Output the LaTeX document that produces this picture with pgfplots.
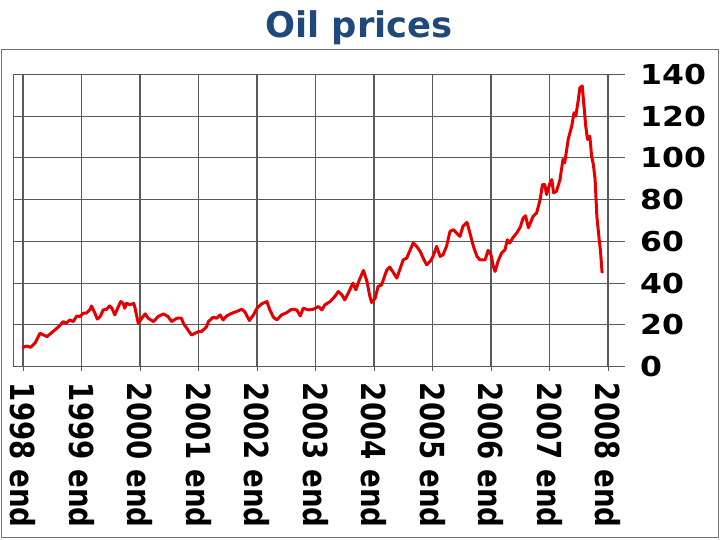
\documentclass[border=0pt]{standalone}
\usepackage{fontspec}
\setmainfont{DejaVu Sans}
\usepackage{pgfplots}
\pgfplotsset{compat=1.18}
\definecolor{titleblue}{RGB}{31,73,125}
\definecolor{oilred}{RGB}{228,0,0}
\definecolor{gridgray}{RGB}{90,90,90}
\begin{document}
\begin{tikzpicture}
\path[use as bounding box] (0,0) rectangle (720bp,540bp);
\draw[black!55, line width=1bp] (1.5bp,2bp) rectangle (718bp,490bp);
\node[anchor=base, font=\fontsize{35.5}{40}\selectfont\bfseries, text=titleblue, inner sep=0pt] at (359bp,502.3bp) {Oil prices};
\begin{axis}[
  at={(13bp,173.3bp)}, anchor=south west,
  scale only axis, width=612bp, height=292.4bp,
  xmin=1997.829, xmax=2008.291, ymin=0, ymax=140,
  axis line style={draw=none},
  grid=major,
  major grid style={gridgray, line width=1.1bp},
  xtick={1998,1999,2000,2001,2002,2003,2004,2005,2006,2007,2008},
  xticklabels={1998 end,1999 end,2000 end,2001 end,2002 end,2003 end,2004 end,2005 end,2006 end,2007 end,2008 end},
  ytick={0,20,40,60,80,100,120,140},
  yticklabels={0,20,40,60,80,100,120,140},
  xtick pos=left,
  ytick pos=right,
  yticklabel pos=right,
  tick align=outside,
  major tick length=4bp,
  xtick style={gridgray, line width=0.8bp},
  ytick style={draw=none},
  xticklabel style={font=\fontsize{27.7}{30}\selectfont\bfseries, rotate=-90, yscale=1.2, anchor=west, inner sep=0pt},
  yticklabel style={font=\fontsize{27.5}{30}\selectfont\bfseries, xscale=1.15, anchor=west, inner sep=0pt},
  xticklabel shift=12bp,
  yticklabel shift=11bp,
]
\draw[gridgray, line width=1.1bp] (rel axis cs:0,0) -- (rel axis cs:0,1);
\addplot[oilred, line width=3bp, line join=round, mark=none] table {
x y
1997.99 9.1
1998.06 9.9
1998.13 9.3
1998.21 11.5
1998.29 16
1998.35 15.2
1998.41 14.4
1998.49 16.3
1998.60 18.9
1998.69 21.6
1998.74 20.8
1998.80 22.4
1998.86 21.6
1998.92 24.3
1998.97 24
1999.03 25.6
1999.08 25.6
1999.15 27.5
1999.17 29.1
1999.23 25.6
1999.27 22.8
1999.32 24
1999.37 27.2
1999.43 27.5
1999.48 29.1
1999.52 28
1999.57 24.8
1999.61 27.5
1999.67 31.2
1999.71 30.4
1999.74 28
1999.77 30.4
1999.83 29.6
1999.89 30.4
1999.91 28.8
1999.97 20.8
2000.03 23.2
2000.09 25.3
2000.14 23.2
2000.23 21.6
2000.31 24
2000.40 25.3
2000.48 24
2000.54 21.6
2000.63 23.2
2000.71 23.2
2000.74 20.8
2000.80 18.4
2000.88 15.2
2000.94 16
2001.00 16.8
2001.05 16.8
2001.14 19.2
2001.17 21.6
2001.25 23.7
2001.31 23.2
2001.37 24.8
2001.42 22.4
2001.48 24.3
2001.57 25.6
2001.65 26.4
2001.74 27.5
2001.79 26.4
2001.87 22.1
2001.94 24.8
2002.00 28
2002.08 30.1
2002.17 31.2
2002.22 27.2
2002.28 23.7
2002.34 22.4
2002.42 24.8
2002.51 25.9
2002.59 27.5
2002.68 27.2
2002.74 24.3
2002.79 28
2002.88 27.2
2002.96 27.5
2003.05 28.8
2003.11 27.2
2003.16 29.6
2003.25 31.2
2003.33 33.6
2003.39 36
2003.45 34.4
2003.50 32
2003.56 35.2
2003.64 40
2003.69 36.8
2003.75 41.6
2003.82 46.1
2003.88 40.8
2003.93 33.6
2003.96 30.7
2004.02 32.8
2004.07 38.4
2004.13 39.2
2004.16 41.6
2004.22 46.4
2004.27 47.7
2004.33 45.1
2004.39 42.4
2004.44 46.4
2004.50 51.2
2004.56 52
2004.62 56
2004.67 59.2
2004.73 57.6
2004.79 55.2
2004.84 52
2004.90 48.8
2004.96 50.4
2005.01 52.8
2005.07 57.6
2005.13 52.8
2005.18 53.6
2005.24 57.6
2005.30 64.8
2005.36 65.6
2005.41 64
2005.47 62.4
2005.52 67.2
2005.59 69.1
2005.64 64
2005.70 57.6
2005.76 52.8
2005.81 51.2
2005.90 51.2
2005.95 55.7
2006.00 53.6
2006.04 48
2006.07 45.6
2006.12 50.4
2006.18 54.4
2006.24 56
2006.28 60.8
2006.32 59.2
2006.38 62
2006.44 64
2006.50 66.8
2006.55 71.2
2006.59 72.3
2006.64 66.5
2006.72 72
2006.78 73.6
2006.84 80
2006.88 87.2
2006.92 87.2
2006.95 82.4
2007.01 88
2007.04 89.6
2007.07 83.2
2007.12 84
2007.18 89.6
2007.23 99.2
2007.26 97.6
2007.32 108.8
2007.38 115.2
2007.42 121.6
2007.45 120
2007.49 127.2
2007.52 133.6
2007.56 134.4
2007.59 124.8
2007.62 115.2
2007.65 108.8
2007.69 110.4
2007.72 100.8
2007.75 96.8
2007.78 89.6
2007.81 72
2007.85 60.8
2007.87 56
2007.90 44.8
};
\end{axis}
\end{tikzpicture}
\end{document}
